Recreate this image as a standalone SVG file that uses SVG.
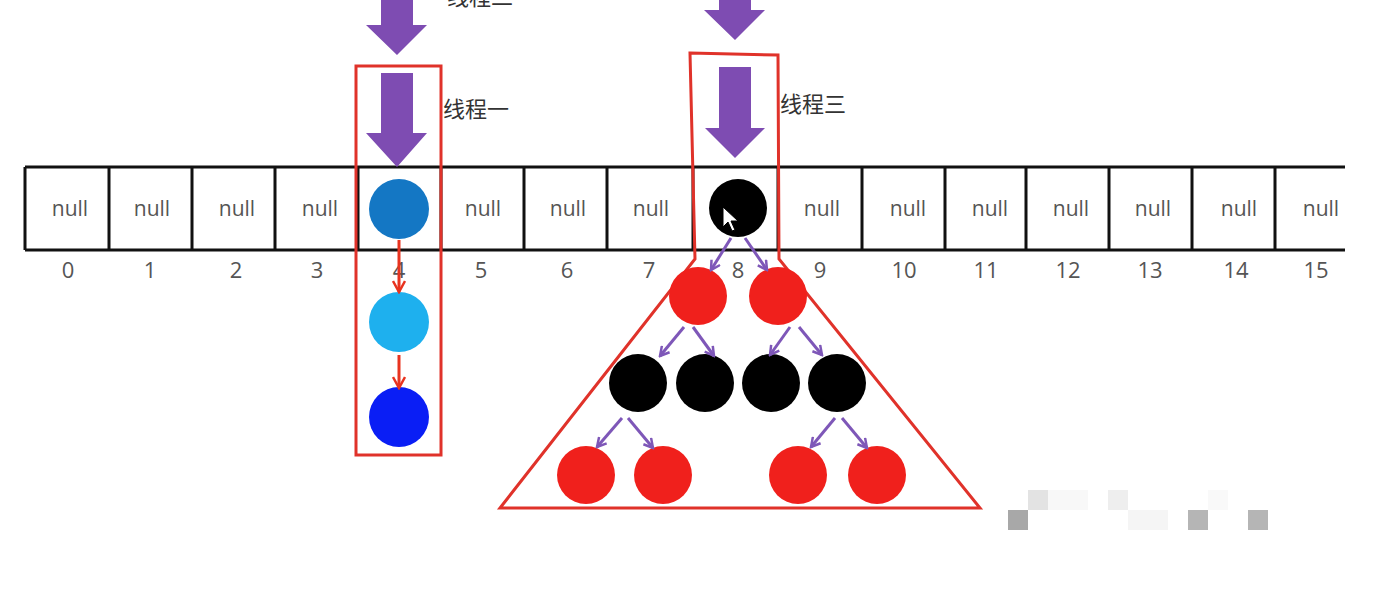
<svg xmlns="http://www.w3.org/2000/svg" width="1390" height="600" viewBox="0 0 1390 600">
<style>
.cell{fill:none;stroke:#111;stroke-width:3}
.null{font-family:"Open Sans","Noto Sans",sans-serif;font-size:21px;fill:#555;text-anchor:middle}
.idx{font-family:"Open Sans","Noto Sans",sans-serif;font-size:22px;fill:#555;text-anchor:middle}
.lbl{font-family:"Noto Sans CJK SC",sans-serif;font-size:22px;fill:#333}
.frame{fill:none;stroke:#e0322a;stroke-width:3;stroke-linejoin:miter}
.big{fill:#7e4cb2}
.pc{stroke:#7e57b8;stroke-width:3;fill:none;marker-end:url(#mp)}
.rc{stroke:#e8331f;stroke-width:3;fill:none;marker-end:url(#mr)}
.red{fill:#f0201c}
.blk{fill:#000}
</style>
<defs>
<marker id="mp" viewBox="0 0 12 12" refX="10" refY="6" markerWidth="12" markerHeight="12" markerUnits="userSpaceOnUse" orient="auto">
<path d="M1,1 L10,6 L1,11" fill="none" stroke="#7e57b8" stroke-width="2.5"/>
</marker>
<marker id="mr" viewBox="0 0 14 14" refX="12" refY="7" markerWidth="14" markerHeight="14" markerUnits="userSpaceOnUse" orient="auto">
<path d="M1,1 L12,7 L1,13" fill="none" stroke="#e8331f" stroke-width="2.5"/>
</marker>
</defs>
<rect width="1390" height="600" fill="#fff"/>

<g id="array">
<path class="cell" d="M25,167 H1345 M25,250 H1345 M25,167 V250 M109,167 V250 M192,167 V250 M275,167 V250 M358,167 V250 M441,167 V250 M524,167 V250 M607,167 V250 M693,167 V250 M778,167 V250 M862,167 V250 M945,167 V250 M1026,167 V250 M1109,167 V250 M1192,167 V250 M1275,167 V250"/>
<text class="null" x="70" y="216">null</text>
<text class="null" x="152" y="216">null</text>
<text class="null" x="237" y="216">null</text>
<text class="null" x="320" y="216">null</text>
<text class="null" x="483" y="216">null</text>
<text class="null" x="568" y="216">null</text>
<text class="null" x="651" y="216">null</text>
<text class="null" x="822" y="216">null</text>
<text class="null" x="908" y="216">null</text>
<text class="null" x="990" y="216">null</text>
<text class="null" x="1071" y="216">null</text>
<text class="null" x="1153" y="216">null</text>
<text class="null" x="1239" y="216">null</text>
<text class="null" x="1321" y="216">null</text>
<text class="idx" x="68" y="278">0</text>
<text class="idx" x="150" y="278">1</text>
<text class="idx" x="236" y="278">2</text>
<text class="idx" x="317" y="278">3</text>
<text class="idx" x="399" y="278">4</text>
<text class="idx" x="481" y="278">5</text>
<text class="idx" x="567" y="278">6</text>
<text class="idx" x="649" y="278">7</text>
<text class="idx" x="738" y="278">8</text>
<text class="idx" x="820" y="278">9</text>
<text class="idx" x="904" y="278">10</text>
<text class="idx" x="986" y="278">11</text>
<text class="idx" x="1068" y="278">12</text>
<text class="idx" x="1150" y="278">13</text>
<text class="idx" x="1236" y="278">14</text>
<text class="idx" x="1316" y="278">15</text>
</g>

<g id="thread1">
<rect class="frame" x="356" y="66" width="85" height="389"/>
<path class="big" d="M381,0 H413 V25 H427 L397,55 L366,25 H381 Z"/>
<path class="big" d="M381,73 H413 V133 H427 L397,167 L366,133 H381 Z"/>
<text class="lbl" x="443" y="117">线程一</text>
<text class="lbl" x="447" y="5">线程二</text>
</g>

<g id="thread3">
<path class="frame" d="M690,53 L778,55 L779,259 L980,508 L500,508 L695,259 Z"/>
<path class="big" d="M719,0 H751 V10 H765 L735,40 L704,10 H719 Z"/>
<path class="big" d="M719,67 H751 V128 H765 L735,158 L705,128 H719 Z"/>
<text class="lbl" x="780" y="112">线程三</text>
</g>

<g id="list4">
<circle cx="399" cy="209" r="30" fill="#1477c4"/>
<circle cx="399" cy="322" r="30" fill="#1eb0ee"/>
<circle cx="399" cy="417" r="30" fill="#0a1ef5"/>
</g>

<g id="tree8">
<circle class="blk" cx="738" cy="208" r="29"/>
<path d="M723,207 L723,227 L728,222 L732,231 L735,230 L731,221 L738,221 Z" fill="#fff" stroke="#000" stroke-width="1"/>
<circle class="red" cx="698" cy="296" r="29"/>
<circle class="red" cx="778" cy="296" r="29"/>
<circle class="blk" cx="638" cy="383" r="29"/>
<circle class="blk" cx="705" cy="383" r="29"/>
<circle class="blk" cx="771" cy="383" r="29"/>
<circle class="blk" cx="837" cy="383" r="29"/>
<circle class="red" cx="586" cy="475" r="29"/>
<circle class="red" cx="663" cy="475" r="29"/>
<circle class="red" cx="798" cy="475" r="29"/>
<circle class="red" cx="877" cy="475" r="29"/>
</g>

<g id="connectors">
<path class="rc" d="M399,240 V292"/>
<path class="rc" d="M399,355 V388"/>
<path class="pc" d="M731,238 L711,270"/>
<path class="pc" d="M745,238 L767,270"/>
<path class="pc" d="M684,327 L660,356"/>
<path class="pc" d="M693,327 L714,356"/>
<path class="pc" d="M790,327 L770,355"/>
<path class="pc" d="M799,327 L822,355"/>
<path class="pc" d="M622,418 L597,447"/>
<path class="pc" d="M628,418 L653,448"/>
<path class="pc" d="M835,418 L811,447"/>
<path class="pc" d="M842,418 L867,448"/>
</g>

<g id="mosaic">
<rect x="1028" y="490" width="20" height="20" fill="#e3e3e3"/>
<rect x="1048" y="490" width="40" height="20" fill="#f8f8f8"/>
<rect x="1108" y="490" width="20" height="20" fill="#eeeeee"/>
<rect x="1208" y="490" width="20" height="20" fill="#f9f9f9"/>
<rect x="1008" y="510" width="20" height="20" fill="#a8a8a8"/>
<rect x="1128" y="510" width="40" height="20" fill="#f5f5f5"/>
<rect x="1188" y="510" width="20" height="20" fill="#b5b5b5"/>
<rect x="1248" y="510" width="20" height="20" fill="#b5b5b5"/>
</g>
</svg>
